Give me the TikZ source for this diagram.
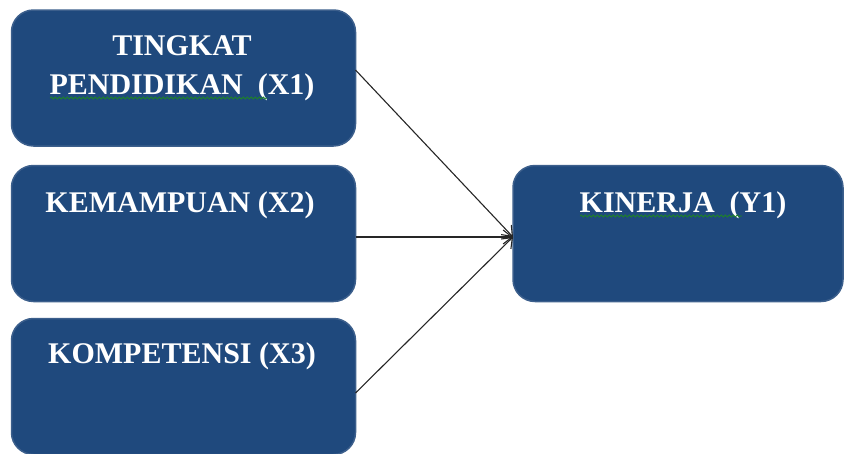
\documentclass[tikz,border=0pt]{standalone}
\usepackage{fontspec}
\setmainfont{Liberation Serif}
\usetikzlibrary{arrows.meta,decorations.pathmorphing}
\definecolor{boxblue}{RGB}{31,73,125}
\definecolor{boxedge}{RGB}{60,95,140}
\definecolor{spellgreen}{RGB}{30,130,40}
\tikzset{
  box/.style={draw=boxedge, line width=1.5pt, fill=boxblue, rounded corners=22pt,
    minimum width=#1, minimum height=136pt, inner sep=0pt, outer sep=0pt},
  lbl/.style={text=white, font=\fontsize{30}{36}\selectfont\bfseries, anchor=base, inner sep=0pt},
  conn/.style={draw=black!85, line width=1.1pt, -{Straight Barb[length=9pt,width=14pt,line width=1.1pt]}},
  wavy/.style={draw=spellgreen, line width=0.8pt, decorate,
    decoration={snake, amplitude=1pt, segment length=4pt}}
}
\begin{document}
\begin{tikzpicture}[x=1pt,y=-1pt]
\useasboundingbox (0,0) rectangle (844,453);
\node[box=344pt] (b1) at (183.5,78) {};
\node[box=344pt] (b2) at (183.5,233.5) {};
\node[box=344pt] (b3) at (183.5,386.5) {};
\node[box=330pt] (k) at (678,233.5) {};
\node[lbl] (t1a) at (182,55) {TINGKAT};
\node[lbl] (t1b) at (182,94) {PENDIDIKAN\ \ (X1)};
\node[lbl] (t2) at (180,212) {KEMAMPUAN (X2)};
\node[lbl] (t3) at (182,363) {KOMPETENSI (X3)};
\node[lbl] (t4) at (683,212) {KINERJA\ \ (Y1)};
\draw[wavy] (50,98) -- (267,98);
\draw[wavy] (580,216) -- (742,216);
\draw[conn] ([yshift=8pt]b1.east) -- ([yshift=-3.5pt]k.west);
\draw[conn] ([yshift=-3.5pt]b2.east) -- ([yshift=-3.5pt]k.west);
\draw[conn] ([yshift=-6.5pt]b3.east) -- ([yshift=-3.5pt]k.west);
\end{tikzpicture}
\end{document}
